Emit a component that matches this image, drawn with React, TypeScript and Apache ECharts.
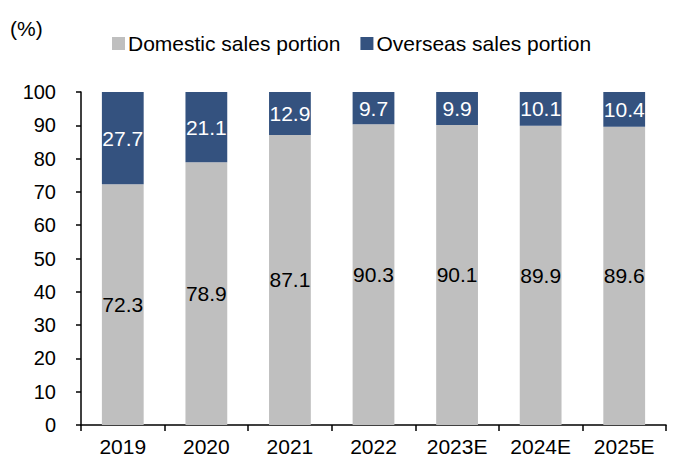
import React, { useEffect, useRef } from "react";
import * as echarts from "echarts";

const categories = ["2019", "2020", "2021", "2022", "2023E", "2024E", "2025E"];
const domestic = [72.3, 78.9, 87.1, 90.3, 90.1, 89.9, 89.6];
const overseas = [27.7, 21.1, 12.9, 9.7, 9.9, 10.1, 10.4];

export default function App() {
  const ref = useRef<HTMLDivElement>(null);
  useEffect(() => {
    const chart = echarts.init(ref.current!, null, { renderer: "svg" });
    const font = "'Liberation Sans', Arial, sans-serif";
    chart.setOption({
      animation: false,
      textStyle: { fontFamily: font },
      graphic: [
        {
          type: "text",
          left: 10,
          top: 18,
          style: { text: "(%)", fontSize: 21, fill: "#000", fontFamily: font },
        },
      ],
      legend: {
        top: 28,
        left: 107,
        itemWidth: 13,
        itemHeight: 13,
        itemGap: 20,
        icon: "rect",
        textStyle: { fontSize: 21, color: "#000", fontFamily: font, padding: [0, 0, 0, -2] },
        data: ["Domestic sales portion", "Overseas sales portion"],
      },
      grid: { left: 81, right: 8, top: 92, bottom: 36 },
      xAxis: {
        type: "category",
        data: categories,
        axisLine: { lineStyle: { color: "#000", width: 1.5 } },
        axisTick: { show: true, length: 6, lineStyle: { color: "#000", width: 1.5 } },
        axisLabel: { fontSize: 21, color: "#000", margin: 11, fontFamily: font },
      },
      yAxis: {
        type: "value",
        min: 0,
        max: 100,
        interval: 10,
        splitLine: { show: false },
        axisLine: { show: true, lineStyle: { color: "#000", width: 1.5 } },
        axisTick: { show: true, length: 5, lineStyle: { color: "#000", width: 1.5 } },
        axisLabel: { fontSize: 20, color: "#000", margin: 25, fontFamily: font },
      },
      series: [
        {
          name: "Domestic sales portion",
          type: "bar",
          stack: "total",
          data: domestic,
          barWidth: "50%",
          itemStyle: { color: "#BFBFBF" },
          label: { show: true, position: "inside", color: "#000", fontSize: 21, fontFamily: font },
        },
        {
          name: "Overseas sales portion",
          type: "bar",
          stack: "total",
          data: overseas,
          barWidth: "50%",
          itemStyle: { color: "#34527F" },
          label: { show: true, position: "inside", color: "#fff", fontSize: 21, fontFamily: font },
        },
      ],
    });
    return () => chart.dispose();
  }, []);
  return <div ref={ref} style={{ width: 674, height: 461, position: "absolute", left: 0, top: 0 }} />;
}
